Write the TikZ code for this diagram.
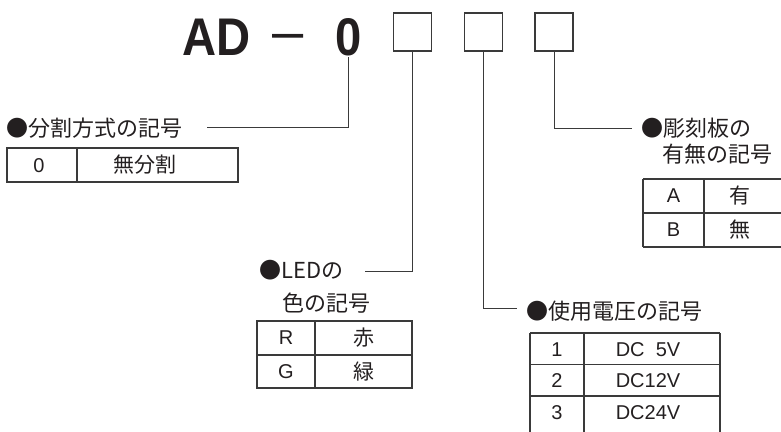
\documentclass[tikz,border=0pt]{standalone}
\usepackage{fontspec}
\setmainfont{Liberation Sans}
\newfontfamily\jp{Noto Sans CJK JP}
\definecolor{tc}{HTML}{231F20}
\definecolor{lc}{HTML}{3A3A3A}
\begin{document}
\begin{tikzpicture}[x=1pt,y=-1pt,
  lab/.style={font=\jp\fontsize{22}{22}\selectfont,anchor=west,inner sep=0pt,text=tc},
  cj/.style={font=\jp\fontsize{21}{21}\selectfont,inner sep=0pt,text=tc},
  la/.style={font=\fontsize{20}{20}\selectfont,inner sep=0pt,text=tc},
  big/.style={font=\fontsize{53}{53}\selectfont\bfseries,inner sep=0pt,anchor=base west,text=tc},
  codebox/.style={draw=lc,line width=1.2pt,minimum width=38pt,minimum height=38pt,inner sep=0pt},
  conn/.style={draw=lc,line width=0.9pt},
  grid/.style={draw=lc,line width=1.1pt}]
\useasboundingbox (0,0) rectangle (781,431);
\clip (0,0) rectangle (781,431);
% title
\node[big] (ad) at (182,55) {\scalebox{0.89}[1]{AD}};
\node[font=\fontsize{56}{56}\selectfont,inner sep=0pt,anchor=base west,text=tc] (dash) at (272,50.5) {–};
\node[big] (zero) at (335,55) {\scalebox{0.89}[1]{0}};
\node[codebox] (b1) at (412.5,32) {};
\node[codebox] (b2) at (483.5,32) {};
\node[codebox] (b3) at (554,32) {};
% connector ends
\coordinate (z0) at (348.5,57);
\coordinate (c0) at (207,127);
\coordinate (cled) at (365,271);
\coordinate (cdc) at (517,308);
\coordinate (cpl) at (632,128);
\draw[conn] (z0) |- (c0);
\draw[conn] (b1.south) |- (cled);
\draw[conn] (b2.south) |- (cdc);
\draw[conn] (b3.south) |- (cpl);
% labels
\node[lab] (l1) at (6,128) {●分割方式の記号};
\node[lab] (l2a) at (259,270) {●LEDの};
\node[lab] (l2b) at (282,303) {色の記号};
\node[lab] (l3) at (526,311) {●使用電圧の記号};
\node[lab] (l4a) at (641,128) {●彫刻板の};
\node[lab] (l4b) at (662,154) {有無の記号};
% table 1
\draw[grid] (7,148) rectangle (238,182) (77,148) -- (77,182);
\node[la] (t1a) at (39,166) {0};
\node[cj] (t1b) at (145,165) {無分割};
% table 2
\draw[grid] (643,179) -- (790,179) (643,213) -- (790,213) (643,247) -- (790,247)
  (643,179) -- (643,247) (704,179) -- (704,247);
\node[la] (t2a) at (673.5,196) {A};
\node[cj] (t2b) at (740,196) {有};
\node[la] (t2c) at (673.5,230) {B};
\node[cj] (t2d) at (740,230) {無};
% table 3
\draw[grid] (257,321) rectangle (412,388) (257,355) -- (412,355) (315,321) -- (315,388);
\node[la] (t3a) at (286,338) {R};
\node[cj] (t3b) at (364,338) {赤};
\node[la] (t3c) at (286,371.5) {G};
\node[cj] (t3d) at (364,371.5) {緑};
% table 4
\draw[grid] (530,333) -- (720,333) (530,364.5) -- (720,364.5) (530,396) -- (720,396)
  (530,333) -- (530,440) (584,333) -- (584,440) (720,333) -- (720,440);
\node[la] (t4a) at (557,349.5) {1};
\node[la] (t4b) at (648,349.5) {DC\ \ 5V};
\node[la] (t4c) at (557,381) {2};
\node[la] (t4d) at (648,381) {DC12V};
\node[la] (t4e) at (557,412.5) {3};
\node[la] (t4f) at (648,412.5) {DC24V};
\end{tikzpicture}
\end{document}
